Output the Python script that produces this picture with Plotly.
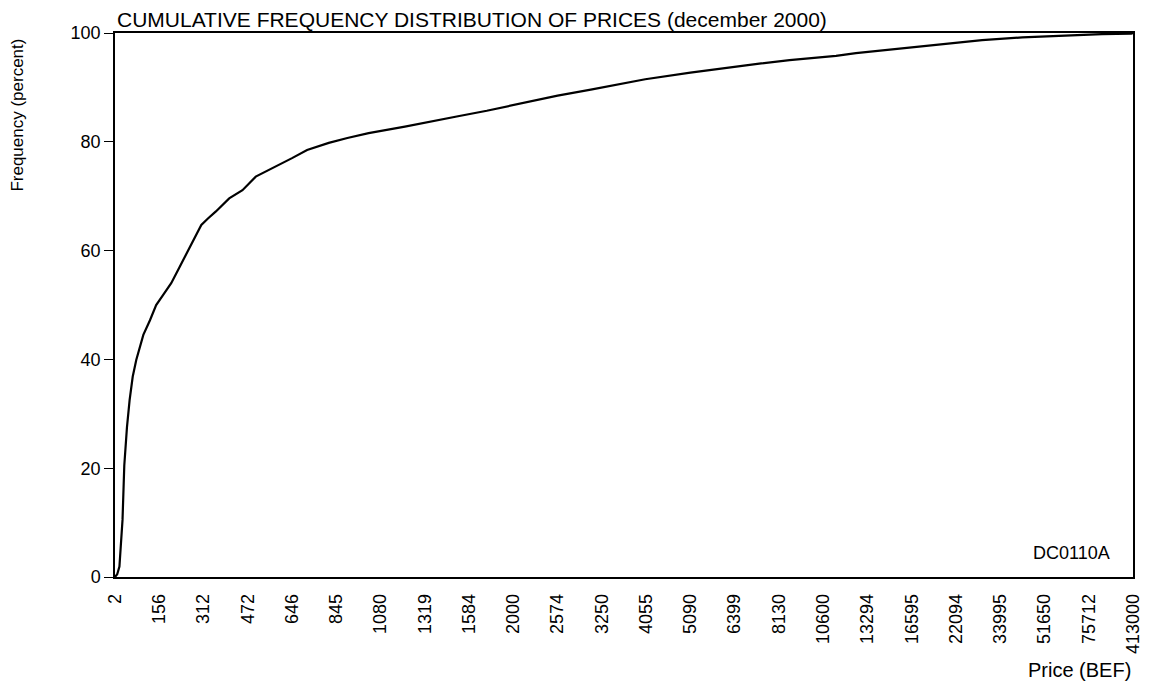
import plotly.graph_objects as go

# Price tick labels (equally spaced rank positions)
price_labels = ["2", "156", "312", "472", "646", "845", "1080", "1319", "1584", "2000",
                "2574", "3250", "4055", "5090", "6399", "8130", "10600", "13294", "16595",
                "22094", "33995", "51650", "75712", "413000"]
tick_positions = list(range(len(price_labels)))

# Cumulative frequency curve: rank position (in tick units) vs cumulative percent
rank_pos = [0, 0.05, 0.10, 0.17, 0.21, 0.27, 0.33, 0.40, 0.48, 0.56, 0.64, 0.79, 0.93,
            1.10, 1.27, 1.46, 1.69, 1.95, 2.10, 2.28, 2.58, 2.88, 3.18, 3.45, 3.71,
            4.00, 4.34, 4.83, 5.25, 5.73, 6.55, 7.15, 7.75, 8.40, 9.03, 9.70, 10.0,
            10.75, 11.40, 11.98, 13.0, 13.9, 14.6, 15.24, 16.29, 16.74, 17.79, 18.70,
            19.59, 20.50, 21.53, 22.30, 22.96, 23.0]
cum_pct = [0, 0.5, 1.9, 10.5, 20.5, 27.5, 32.5, 36.8, 39.9, 42.3, 44.5, 47.2, 50.0,
           52.0, 54.0, 57.0, 60.7, 64.7, 65.9, 67.2, 69.6, 71.1, 73.6, 74.7, 75.7,
           77.0, 78.5, 79.8, 80.7, 81.6, 82.8, 83.8, 84.7, 85.7, 86.8, 88.0, 88.5,
           89.6, 90.6, 91.5, 92.7, 93.7, 94.4, 95.0, 95.8, 96.3, 97.2, 98.0,
           98.7, 99.2, 99.6, 99.8, 99.9, 100.0]

FONT = "Liberation Sans, Arial, Helvetica, sans-serif"

fig = go.Figure()
fig.add_trace(go.Scatter(x=rank_pos, y=cum_pct, mode="lines",
                         line=dict(color="black", width=2.2), showlegend=False))

fig.update_layout(
    width=1155, height=684,
    margin=dict(l=115, r=17, t=33, b=107),
    paper_bgcolor="white", plot_bgcolor="white",
    font=dict(family=FONT, color="black", size=16),
    xaxis=dict(range=[0, 23], tickvals=tick_positions, ticktext=price_labels,
               tickangle=-90, showgrid=False, zeroline=False, ticks="",
               ticklabelstandoff=8,
               showline=True, linecolor="black", linewidth=1.5, mirror=True,
               tickfont=dict(size=18)),
    yaxis=dict(range=[0, 100], tickvals=[0, 20, 40, 60, 80, 100],
               showgrid=False, zeroline=False, ticks="outside", ticklen=9,
               tickcolor="black", tickwidth=1,
               showline=True, linecolor="black", linewidth=1.5, mirror=True,
               tickfont=dict(size=18)),
)

fig.add_annotation(text="CUMULATIVE FREQUENCY DISTRIBUTION OF PRICES (december 2000)",
                   xref="paper", yref="paper", x=0.0, y=1, xanchor="left",
                   yanchor="bottom", yshift=0, showarrow=False, font=dict(size=21))
fig.add_annotation(text="Frequency (percent)", xref="paper", yref="paper",
                   x=-0.0958, y=0.849, xanchor="center", yanchor="middle",
                   textangle=-90, showarrow=False, font=dict(size=17))
fig.add_annotation(text="Price (BEF)", xref="paper", yref="paper",
                   x=1, y=-0.171, xanchor="right", yanchor="middle",
                   showarrow=False, font=dict(size=20))
fig.add_annotation(text="DC0110A", xref="paper", yref="paper",
                   x=0.9795, y=0.044, xanchor="right", yanchor="middle",
                   showarrow=False, font=dict(size=18))

fig.write_html("out.html", config={"displayModeBar": False},
               post_script="document.body.style.margin='0';document.body.style.overflow='hidden';")
